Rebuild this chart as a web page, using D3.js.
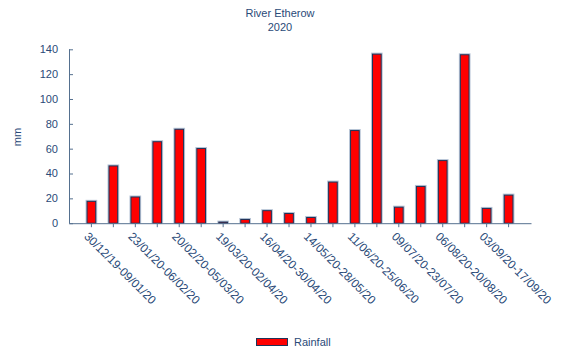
<!DOCTYPE html>
<html>
<head>
<meta charset="utf-8">
<script src="https://cdn.jsdelivr.net/npm/d3@7"></script>
<style>
  html, body { margin: 0; padding: 0; background: #fff; }
  svg { display: block; font-family: "Liberation Sans", Arial, sans-serif; }
</style>
</head>
<body>
<svg id="chart" width="561" height="358"></svg>
<script>
// Fortnightly rainfall periods, River Etherow 2020
const periods = [
  "30/12/19-09/01/20", "09/01/20-23/01/20", "23/01/20-06/02/20", "06/02/20-20/02/20",
  "20/02/20-05/03/20", "05/03/20-19/03/20", "19/03/20-02/04/20", "02/04/20-16/04/20",
  "16/04/20-30/04/20", "30/04/20-14/05/20", "14/05/20-28/05/20", "28/05/20-11/06/20",
  "11/06/20-25/06/20", "25/06/20-09/07/20", "09/07/20-23/07/20", "23/07/20-06/08/20",
  "06/08/20-20/08/20", "20/08/20-03/09/20", "03/09/20-17/09/20", "17/09/20-01/10/20"
];
// Rainfall per period (mm)
const rainfall = [18, 46.5, 21.5, 66, 76, 60.5, 1.3, 3.4, 10.5, 8.2, 5, 33.5, 75, 136.5, 13.3, 30, 50.8, 136, 12.3, 23];
const yTicks = [0, 20, 40, 60, 80, 100, 120, 140];
const titleLines = ["River Etherow", "2020"];
const yLabel = "mm";
const seriesName = "Rainfall";

const textColor = "#2a4a78";
const axisColor = "#55708f";

const svg = d3.select("#chart");
const plot = { left: 69, right: 531, top: 49.3, bottom: 223.2 };

const x = d3.scaleBand()
  .domain(periods)
  .range([plot.left, plot.right])
  .paddingInner(0.56)
  .paddingOuter(0.8);

const y = d3.scaleLinear()
  .domain([0, 140])
  .range([plot.bottom, plot.top]);

// Title
svg.append("g").selectAll("text")
  .data(titleLines)
  .join("text")
  .attr("x", 280)
  .attr("y", (d, i) => 17 + i * 14)
  .attr("text-anchor", "middle")
  .attr("font-size", 11)
  .attr("fill", textColor)
  .text(d => d);

// Bars: soft halo behind, red body with dark outline
const bars = svg.append("g");
bars.selectAll("rect.halo")
  .data(rainfall)
  .join("rect")
  .attr("class", "halo")
  .attr("x", (d, i) => x(periods[i]) - 1)
  .attr("y", d => y(d) - 1)
  .attr("width", x.bandwidth() + 2)
  .attr("height", d => y(0) - y(d) + 1)
  .attr("fill", "#b4c2d4");
bars.selectAll("rect.bar")
  .data(rainfall)
  .join("rect")
  .attr("class", "bar")
  .attr("x", (d, i) => x(periods[i]) + 0.5)
  .attr("y", d => y(d) + 0.5)
  .attr("width", x.bandwidth() - 1)
  .attr("height", d => Math.max(0, y(0) - y(d) - 0.5))
  .attr("fill", "#ff0000")
  .attr("stroke", "#1f3358")
  .attr("stroke-width", 1);

// Y axis
const yAxis = svg.append("g")
  .attr("transform", `translate(${plot.left},0)`)
  .call(d3.axisRight(y).tickValues(yTicks).tickSize(4).tickFormat(""));
yAxis.select(".domain").attr("stroke", axisColor).attr("d", `M0.5,${plot.top}V${plot.bottom}`);
yAxis.selectAll(".tick line").attr("stroke", axisColor);
svg.append("g").selectAll("text")
  .data(yTicks)
  .join("text")
  .attr("x", 58)
  .attr("y", d => y(d))
  .attr("dy", "0.35em")
  .attr("text-anchor", "end")
  .attr("font-size", 11)
  .attr("fill", textColor)
  .text(d => d);

svg.append("text")
  .attr("transform", "translate(21,137) rotate(-90)")
  .attr("text-anchor", "middle")
  .attr("font-size", 11)
  .attr("fill", textColor)
  .text(yLabel);

// X axis
const xAxis = svg.append("g")
  .attr("transform", `translate(0,${plot.bottom})`)
  .call(d3.axisBottom(x).tickSize(4).tickSizeOuter(0).tickFormat(""));
xAxis.select(".domain").attr("stroke", axisColor);
xAxis.selectAll(".tick line").attr("stroke", axisColor);

svg.append("g").selectAll("text")
  .data(periods.filter((d, i) => i % 2 === 0))
  .join("text")
  .attr("transform", d => `translate(${x(d) + x.bandwidth() / 2 - 2},${plot.bottom + 8}) rotate(45)`)
  .attr("dy", "0.71em")
  .attr("text-anchor", "start")
  .attr("font-size", 11.8)
  .attr("fill", textColor)
  .text(d => d);

// Legend
const legend = svg.append("g");
legend.append("rect")
  .attr("x", 256.5).attr("y", 338.5)
  .attr("width", 31).attr("height", 7)
  .attr("fill", "#ff0000")
  .attr("stroke", "#1f3358");
legend.append("text")
  .attr("x", 294).attr("y", 346)
  .attr("font-size", 11)
  .attr("fill", textColor)
  .text(seriesName);
</script>
</body>
</html>
